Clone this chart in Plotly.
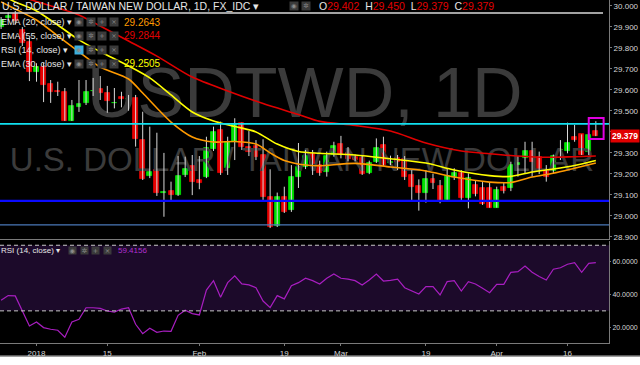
import numpy as np
import pandas as pd
import plotly.graph_objects as go

# ---------------- data ----------------
dates = pd.bdate_range("2017-12-25", periods=85)
date_labels = [d.strftime("%Y-%m-%d") for d in dates]

opens = [29.900, 29.940, 29.960, 29.884, 29.828, 29.686, 29.709, 29.627, 29.594, 29.588,
         29.451, 29.519, 29.538, 29.592, 29.602, 29.583, 29.535, 29.564, 29.554, 29.562,
         29.360, 29.190, 29.218, 29.109, 29.118, 29.099, 29.194, 29.237, 29.170, 29.186,
         29.318, 29.408, 29.229, 29.352, 29.440, 29.329, 29.332, 29.289, 29.088, 28.952,
         29.088, 29.027, 29.186, 29.230, 29.294, 29.241, 29.209, 29.289, 29.341, 29.300,
         29.281, 29.273, 29.205, 29.257, 29.337, 29.249, 29.273, 29.268, 29.194, 29.141,
         29.106, 29.173, 29.141, 29.075, 29.186, 29.202, 29.083, 29.146, 29.133, 29.130,
         29.038, 29.138, 29.130, 29.240, 29.273, 29.308, 29.281, 29.217, 29.213, 29.311,
         29.308, 29.376, 29.387, 29.305, 29.402]
highs = [29.946, 29.968, 29.975, 29.898, 29.846, 29.726, 29.727, 29.646, 29.638, 29.608,
         29.551, 29.646, 29.646, 29.656, 29.665, 29.618, 29.608, 29.590, 29.575, 29.575,
         29.495, 29.424, 29.395, 29.299, 29.162, 29.284, 29.281, 29.289, 29.284, 29.376,
         29.424, 29.448, 29.376, 29.464, 29.443, 29.403, 29.360, 29.364, 29.221, 29.110,
         29.138, 29.241, 29.346, 29.313, 29.313, 29.262, 29.305, 29.352, 29.380, 29.327,
         29.291, 29.289, 29.262, 29.368, 29.376, 29.286, 29.289, 29.284, 29.217, 29.173,
         29.217, 29.200, 29.170, 29.226, 29.226, 29.217, 29.202, 29.170, 29.160, 29.160,
         29.138, 29.160, 29.257, 29.284, 29.352, 29.352, 29.305, 29.241, 29.291, 29.360,
         29.443, 29.432, 29.387, 29.395, 29.450]
lows = [29.889, 29.930, 29.913, 29.808, 29.641, 29.638, 29.541, 29.537, 29.570, 29.451,
        29.451, 29.494, 29.527, 29.570, 29.551, 29.490, 29.511, 29.516, 29.500, 29.329,
        29.170, 29.179, 29.094, 28.995, 29.067, 29.094, 29.184, 29.098, 29.126, 29.179,
        29.308, 29.194, 29.194, 29.265, 29.313, 29.284, 29.265, 29.075, 28.941, 28.946,
        29.013, 29.018, 29.132, 29.222, 29.194, 29.190, 29.186, 29.281, 29.273, 29.259,
        29.259, 29.194, 29.198, 29.251, 29.237, 29.241, 29.217, 29.170, 29.075, 29.024,
        29.062, 29.127, 29.059, 29.075, 29.170, 29.075, 29.035, 29.092, 29.051, 29.038,
        29.038, 29.106, 29.117, 29.186, 29.202, 29.186, 29.198, 29.162, 29.202, 29.265,
        29.297, 29.352, 29.289, 29.289, 29.379]
closes = [29.932, 29.952, 29.929, 29.822, 29.686, 29.709, 29.622, 29.590, 29.589, 29.451,
          29.522, 29.532, 29.590, 29.594, 29.584, 29.548, 29.538, 29.554, 29.557, 29.365,
          29.175, 29.210, 29.107, 29.114, 29.099, 29.189, 29.221, 29.162, 29.154, 29.321,
          29.400, 29.205, 29.352, 29.436, 29.329, 29.305, 29.278, 29.088, 28.948, 29.088,
          29.019, 29.186, 29.230, 29.284, 29.246, 29.202, 29.284, 29.332, 29.289, 29.268,
          29.265, 29.198, 29.252, 29.321, 29.241, 29.257, 29.257, 29.183, 29.135, 29.106,
          29.173, 29.157, 29.071, 29.189, 29.202, 29.083, 29.181, 29.103, 29.056, 29.038,
          29.122, 29.119, 29.241, 29.253, 29.308, 29.257, 29.213, 29.186, 29.284, 29.313,
          29.348, 29.360, 29.289, 29.384, 29.379]
rsi = [36.5, 39.3, 39.1, 29.5, 20.8, 23.2, 19.8, 18.8, 18.2, 13.9,
       23.2, 24.9, 31.9, 31.9, 31.5, 29.9, 29.3, 31.1, 31.9, 21.8,
       16.1, 19.4, 16.9, 17.7, 17.5, 27.3, 30.4, 28.3, 27.5, 42.7,
       48.4, 38.3, 47.2, 51.3, 46.4, 45.8, 44.1, 36.0, 32.0, 39.3,
       37.3, 45.4, 47.2, 49.9, 48.4, 46.4, 49.9, 52.5, 49.9, 49.3,
       48.4, 45.8, 48.8, 52.5, 48.2, 48.6, 49.3, 44.1, 42.1, 40.3,
       44.8, 44.8, 39.7, 47.8, 48.4, 42.1, 47.8, 46.4, 43.8, 41.1,
       46.2, 46.2, 53.5, 53.9, 57.4, 53.5, 50.9, 48.8, 55.4, 56.3,
       58.4, 59.4, 53.5, 59.0, 59.4]

# EMA readings at sampled candle positions
ema55_pos = [0, 5, 11, 14, 18, 22, 27, 32, 37, 42, 45, 50, 55, 60, 65, 69, 73, 77, 81, 84]
ema55 = [30.072, 30.020, 29.956, 29.903, 29.832, 29.760, 29.660, 29.594, 29.534, 29.482,
         29.449, 29.430, 29.403, 29.346, 29.308, 29.295, 29.284, 29.278, 29.281, 29.284]
ema20_pos = [0, 2, 5, 8, 11, 14, 18, 20, 22, 24, 27, 30, 33, 36, 38, 40, 43, 45, 50, 55,
             60, 64, 69, 72, 75, 78, 81, 84]
ema20 = [30.018, 29.984, 29.932, 29.856, 29.780, 29.708, 29.651, 29.584, 29.513, 29.446,
         29.375, 29.351, 29.353, 29.341, 29.299, 29.263, 29.241, 29.238, 29.249, 29.232,
         29.213, 29.184, 29.160, 29.158, 29.184, 29.202, 29.226, 29.251]
ema30_pos = [0, 2, 5, 8, 11, 14, 18, 21, 24, 27, 30, 33, 36, 39, 42, 45, 50, 55, 60, 64,
             69, 72, 75, 78, 81, 84]
ema30 = [30.051, 30.018, 29.975, 29.908, 29.837, 29.781, 29.713, 29.656, 29.575, 29.494,
         29.451, 29.425, 29.399, 29.341, 29.306, 29.297, 29.289, 29.271, 29.251, 29.218,
         29.191, 29.187, 29.208, 29.222, 29.239, 29.263]

tick_dates = ["2018-01-01", "2018-01-15", "2018-02-01", "2018-02-19",
              "2018-03-01", "2018-03-19", "2018-04-02", "2018-04-16"]
tick_text = ["2018", "15", "Feb", "19", "Mar", "19", "Apr", "16"]

level_cyan = 29.437
level_blue = 29.071
level_steel = 28.956
level_white = 29.965
price_ticks = [28.9, 29.0, 29.1, 29.2, 29.3, 29.4, 29.5, 29.6, 29.7, 29.8, 29.9, 30.0]
rsi_ticks = [20, 40, 60]
rsi_bands = [30, 70]
ema20_last, ema55_last, ema30_last, rsi_last = "29.2643", "29.2844", "29.2505", "59.4156"

# ---------------- figure ----------------
W, H = 640, 365
ML, MR, MT, MB = 0, 31, 0, 22
PW, PH = W - ML - MR, H - MT - MB
pos = np.arange(len(dates))
xrange_ = [-0.155, 85.86]

def px(xp):
    return xp / PW

def py(yp):
    return (PH - yp) / PH

fig = go.Figure()
FONT = "Liberation Sans, Arial, sans-serif"

# watermark (behind everything)
fig.add_trace(go.Scatter(x=[42.9], y=[29.551], mode="text", text=["USDTWD, 1D"],
                         textfont=dict(size=70, color="#3b3b3b", family=FONT),
                         hoverinfo="skip", showlegend=False, xaxis="x", yaxis="y"))
fig.add_trace(go.Scatter(x=[42.5], y=[29.251], mode="text",
                         text=["U.S. DOLLAR / TAIWAN NEW DOLLAR"],
                         textfont=dict(size=33, color="#3b3b3b", family=FONT),
                         hoverinfo="skip", showlegend=False, xaxis="x", yaxis="y"))

# wicks
wx, wy = [], []
for i in range(len(pos)):
    wx += [pos[i], pos[i], None]
    wy += [highs[i], lows[i], None]
fig.add_trace(go.Scatter(x=wx, y=wy, mode="lines", line=dict(color="#d8d8d8", width=1),
                         hoverinfo="skip", showlegend=False, xaxis="x", yaxis="y"))

# bodies
o = np.array(opens); c = np.array(closes)
up = c >= o
for mask, col in [(up, "#00e400"), (~up, "#e80000")]:
    fig.add_trace(go.Bar(x=pos[mask], y=np.abs(c - o)[mask], base=np.minimum(o, c)[mask],
                         width=0.7, marker=dict(color=col, line=dict(color=col, width=0.8)),
                         hoverinfo="skip", showlegend=False, xaxis="x", yaxis="y"))

# EMAs
for p_, v_, col in [(ema55_pos, ema55, "#e00000"), (ema20_pos, ema20, "#ff9a00"),
                    (ema30_pos, ema30, "#ffff00")]:
    fig.add_trace(go.Scatter(x=p_, y=v_, mode="lines", line=dict(color=col, width=1.6, shape="spline",
                                                                  smoothing=0.8),
                             hoverinfo="skip", showlegend=False, xaxis="x", yaxis="y"))

# RSI
fig.add_trace(go.Scatter(x=pos, y=rsi, mode="lines", line=dict(color="#a81ec0", width=1.2),
                         hoverinfo="skip", showlegend=False, xaxis="x2", yaxis="y2"))

shapes = []
# RSI band
shapes.append(dict(type="rect", xref="x2 domain", yref="y2", x0=0, x1=1, y0=rsi_bands[0],
                   y1=rsi_bands[1], fillcolor="#1c0a2a", line=dict(width=0), layer="below"))
for b in rsi_bands:
    shapes.append(dict(type="line", xref="x2 domain", yref="y2", x0=0, x1=1, y0=b, y1=b,
                       line=dict(color="#c8c8c8", width=1, dash="4px,3px"), layer="above"))
# horizontal levels
for lv, col, wdt in [(level_cyan, "#10e0f0", 1.8), (level_blue, "#0a0aff", 2.2),
                     (level_steel, "#4a78b8", 1.2)]:
    shapes.append(dict(type="line", xref="x domain", yref="y", x0=0, x1=1, y0=lv, y1=lv,
                       line=dict(color=col, width=wdt), layer="above"))
shapes.append(dict(type="line", xref="x domain", yref="y", x0=0, x1=603 / PW, y0=level_white,
                   y1=level_white, line=dict(color="#d8d8d8", width=1.5), layer="above"))
# highlight last candle
k = pos[-1]
shapes.append(dict(type="rect", xref="x", yref="y", x0=k - 1.0, x1=k + 1.1,
                   y0=lows[-1] - 0.014, y1=highs[-1] + 0.015,
                   line=dict(color="#e000e0", width=2), fillcolor="rgba(0,0,0,0)"))
# white page strip below the chart
shapes.append(dict(type="rect", xref="paper", yref="paper", x0=-0.01, x1=W / PW + 0.01,
                   y0=py(356.5), y1=py(366), fillcolor="#ffffff",
                   line=dict(width=0), layer="above"))
shapes.append(dict(type="line", xref="paper", yref="paper", x0=-0.01, x1=W / PW + 0.01,
                   y0=py(356), y1=py(356), line=dict(color="#b8b8b8", width=1), layer="above"))

annotations = []

def txt(x, y, text, size=10, color="#e6e6e6", **kw):
    annotations.append(dict(xref="paper", yref="paper", x=px(x), y=py(y), text=text,
                            showarrow=False, xanchor="left", yanchor="middle",
                            font=dict(size=size, color=color, family=FONT), borderpad=0, **kw))

def icons(x0, y, n, size=8, first_col="#3a3a3a"):
    glyphs = ["◉", "✲", "+", "×"]
    for i in range(n):
        annotations.append(dict(xref="paper", yref="paper", x=px(x0 + i * 11.6), y=py(y),
                                text=glyphs[i % 4], showarrow=False, xanchor="left", yanchor="middle",
                                width=size, height=size, bgcolor=first_col if i == 0 else "#3a3a3a",
                                font=dict(size=6.5, color="#8a8a8a", family="DejaVu Sans"),
                                borderpad=0))

txt(1, 6.5, "U.S. DOLLAR / TAIWAN NEW DOLLAR, 1D, FX_IDC ▾", size=10.5)
icons(289, 6.5, 2)
red = "#e00000"
ohlc = (f"O<span style='color:{red}'>{opens[-1]:.3f}</span>  H<span style='color:{red}'>{highs[-1]:.3f}</span>"
        f"  L<span style='color:{red}'>{lows[-1]:.3f}</span>  C<span style='color:{red}'>{closes[-1]:.3f}</span>")
txt(318, 6.5, ohlc, size=10.5)

rows = [(22, "EMA (20, close) ▾", ema20_last, "#ff9a00", "#3a3a3a"),
        (35.5, "EMA (55, close) ▾", ema55_last, "#e00000", "#3a3a3a"),
        (50, "RSI (14, close) ▾", None, None, "#3cb0e0"),
        (63.5, "EMA (30, close) ▾", ema30_last, "#ffff00", "#3a3a3a")]
for y, label, val, col, ic in rows:
    txt(0, y, label, size=9)
    icons(74, y, 4, first_col=ic)
    if val:
        txt(123, y, val, size=10, color=col)

txt(0, 250.7, "RSI (14, close) ▾", size=8)
icons(68, 250.7, 4, size=7)
txt(117, 250.7, rsi_last, size=8, color="#b030d0")

# last price label
annotations.append(dict(xref="paper", yref="y", x=1, y=closes[-1], text=f"<b>{closes[-1]:.3f}</b>",
                        showarrow=False, xanchor="left", yanchor="middle", xshift=1,
                        bgcolor="#e00000", borderpad=1,
                        font=dict(size=8.5, color="#ffffff", family=FONT)))

axis_col = "#7a7a7a"
tick_font = dict(size=8, color="#d6d6d6", family=FONT)
tickpos = [date_labels.index(t) for t in tick_dates]

fig.update_layout(
    width=W, height=H, margin=dict(l=ML, r=MR, t=MT, b=MB, autoexpand=False),
    paper_bgcolor="#000000", plot_bgcolor="#000000",
    barmode="overlay", bargap=0, showlegend=False,
    shapes=shapes, annotations=annotations,
    xaxis=dict(domain=[0, 1], anchor="y", range=xrange_, showticklabels=False, showgrid=False,
               zeroline=False, showline=True, linecolor=axis_col, linewidth=1, ticks="",
               automargin=False),
    xaxis2=dict(domain=[0, 1], anchor="y2", range=xrange_, showgrid=False, zeroline=False,
                showline=True, linecolor=axis_col, linewidth=1, ticks="outside", ticklen=2,
                tickcolor=axis_col, tickvals=tickpos, ticktext=tick_text, automargin=False,
                tickfont=dict(size=8, color="#d6d6d6", family=FONT)),
    yaxis=dict(domain=[py(239), 1], anchor="x", side="right", range=[28.889, 30.0271],
               tickvals=price_ticks, tickformat=".3f", showgrid=False, zeroline=False,
               showline=True, linecolor=axis_col, linewidth=1, ticks="outside", ticklen=2,
               tickcolor=axis_col, tickfont=tick_font, automargin=False),
    yaxis2=dict(domain=[0, py(241)], anchor="x2", side="right", range=[10.4, 72.6],
                tickvals=rsi_ticks, ticktext=[f"{v:.4f}" for v in rsi_ticks], showgrid=False,
                zeroline=False, showline=True, linecolor=axis_col, linewidth=1, ticks="outside",
                ticklen=1, tickcolor=axis_col, automargin=False,
                tickfont=dict(size=7, color="#d6d6d6", family=FONT)),
)

fig.write_html("out.html")
